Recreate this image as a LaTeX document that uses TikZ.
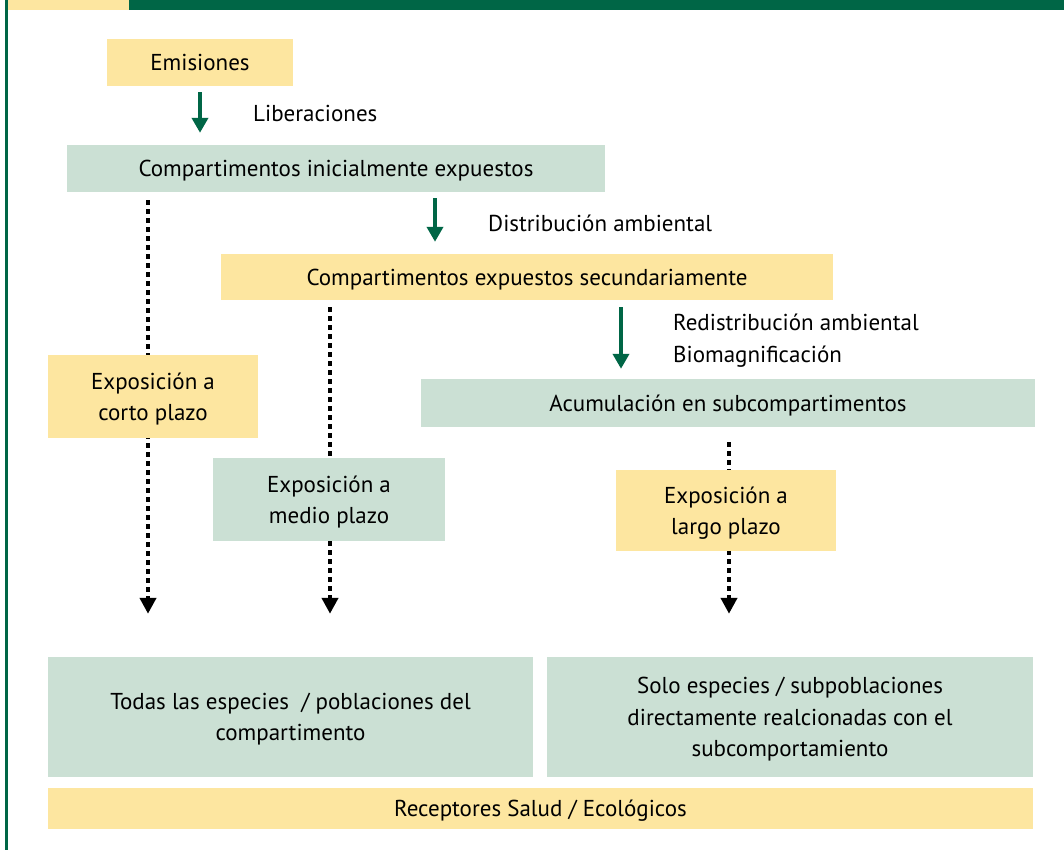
\documentclass[tikz,border=0pt]{standalone}
\usepackage{fontspec}
\setmainfont{PT Sans}
\usetikzlibrary{arrows.meta}
\definecolor{dgreen}{RGB}{0,102,70}
\definecolor{byellow}{RGB}{253,230,160}
\definecolor{bgreen}{RGB}{203,224,212}
\tikzset{
  box/.style={inner sep=0pt, align=center, text depth=0pt, font=\fontsize{23}{31.5}\selectfont},
  ybox/.style={box, fill=byellow},
  gbox/.style={box, fill=bgreen},
  lbl/.style={inner sep=0pt, anchor=west, align=left, font=\fontsize{23}{32}\selectfont},
  garrow/.style={draw=dgreen, line width=4pt, -{Triangle[width=16pt,length=15pt]}},
  darrow/.style={draw=black, line width=4pt, dash pattern=on 4.5pt off 4.5pt, -{Triangle[width=16pt,length=16pt]}}
}
\begin{document}
\begin{tikzpicture}[x=1pt,y=-1pt]
\useasboundingbox (0,0) rectangle (1064,850);
% frame
\fill[byellow] (7,0) rectangle (129,10);
\fill[dgreen] (129,0) rectangle (1064,10);
\fill[dgreen] (5,0) rectangle (7.5,850);
% helper coordinates for connector columns
\coordinate (c1) at (148,0);
\coordinate (c2) at (330,0);
\coordinate (c3) at (729,0);
\coordinate (g1) at (200,0);
\coordinate (g2) at (435,0);
\coordinate (g3) at (621,0);
% boxes under the dotted arrows
\node[gbox, minimum width=538pt, minimum height=47pt] (init) at (336,168.5) {Compartimentos inicialmente expuestos};
\node[ybox, minimum width=612pt, minimum height=46pt] (sec) at (527,277) {Compartimentos expuestos secundariamente};
\node[gbox, minimum width=614pt, minimum height=48pt] (acum) at (728,403) {Acumulación en subcompartimentos};
\node[gbox, minimum width=485pt, minimum height=120pt] (todas) at (290.5,717) {Todas las especies \ / poblaciones del\\compartimento};
\node[gbox, minimum width=486pt, minimum height=120pt] (solo) at (790,717) {Solo especies / subpoblaciones\\directamente realcionadas con el\\subcomportamiento};
% dotted arrows
\draw[darrow, shorten <=8pt, shorten >=43pt] (init.south -| c1) -- (todas.north -| c1);
\draw[darrow, shorten <=7pt, shorten >=43pt] (sec.south -| c2) -- (todas.north -| c2);
\draw[darrow, shorten <=15pt, shorten >=43pt] (acum.south -| c3) -- (solo.north -| c3);
% boxes over dotted lines
\node[ybox, minimum width=186pt, minimum height=47pt] (emis) at (200,62.5) {Emisiones};
\node[ybox, minimum width=210pt, minimum height=83pt] (corto) at (153,396.5) {Exposición a\\corto plazo};
\node[gbox, minimum width=232pt, minimum height=83pt] (medio) at (329,499.5) {Exposición a\\medio plazo};
\node[ybox, minimum width=220pt, minimum height=81pt] (largo) at (726,510.5) {Exposición a\\largo plazo};
\node[ybox, minimum width=985pt, minimum height=41pt] (recep) at (540.5,808.5) {Receptores Salud / Ecológicos};
% green arrows
\draw[garrow, shorten <=6pt, shorten >=12pt] (emis.south -| g1) -- (init.north -| g1);
\draw[garrow, shorten <=6pt, shorten >=12pt] (init.south -| g2) -- (sec.north -| g2);
\draw[garrow, shorten <=7pt, shorten >=10pt] (sec.south -| g3) -- (acum.north -| g3);
% labels
\node[lbl] (lib) at (253,113) {Liberaciones};
\node[lbl] (dist) at (488,223) {Distribución ambiental};
\node[lbl] (redis) at (673,341) {Redistribución ambiental\\Biomagnificación};
\end{tikzpicture}
\end{document}
